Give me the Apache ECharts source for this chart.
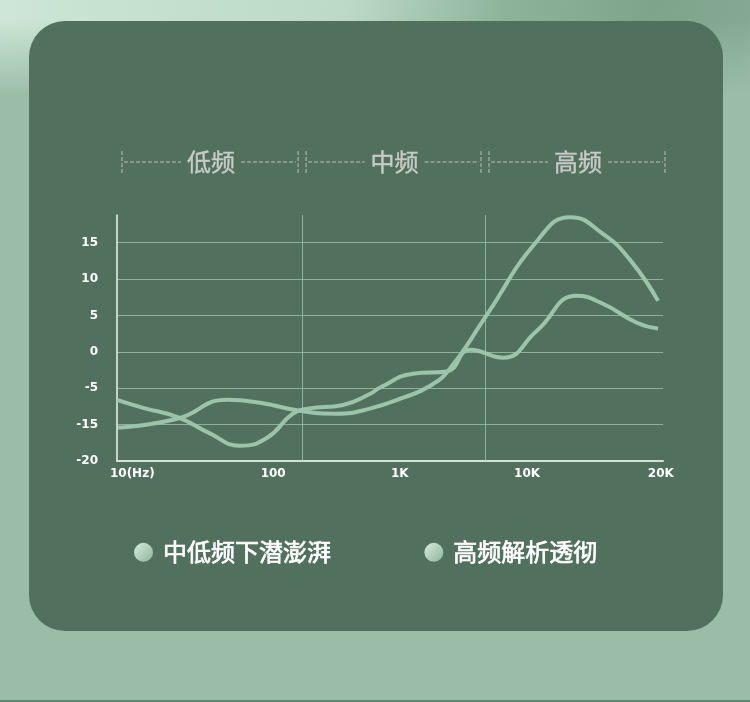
<!DOCTYPE html>
<html>
<head>
<meta charset="utf-8">
<script src="https://cdn.jsdelivr.net/npm/echarts@6/dist/echarts.min.js"></script>
<style>
	html, body { margin: 0; padding: 0; }
	body {
		width: 750px; height: 702px; overflow: hidden; position: relative;
		background:
			linear-gradient(180deg, rgba(155,189,168,0) 0, rgba(155,189,168,0) 20px, #9bbda8 95px),
			linear-gradient(100deg, #cde6d7 0%, #bcd9c7 40%, #8db39b 58%, #7fa48c 75%, #84a891 86%, #b4d1bf 93%, #86a993 100%);
		background-color: #9bbda8;
	}
	.card {
		position: absolute; left: 29px; top: 21px; width: 694px; height: 610px;
		border-radius: 36px; background: #52705e;
	}
	.bottom-line { position: absolute; left: 0; bottom: 0; width: 750px; height: 2px; background: #5e8470; }
	#chart { position: absolute; left: 0; top: 0; width: 750px; height: 702px; }
</style>
</head>
<body>
<div class="card"></div>
<div class="bottom-line"></div>
<div id="chart"></div>
<script>
	// 频段划分(横轴位置 0-100)
	var bandNames = ['低频', '中频', '高频'];
	var bandEdges = [0, 33.9, 67.4, 100];

	// 横轴刻度
	var xTickPos = [2.8, 28.6, 51.8, 75.1, 99.6];
	var xTickLabels = ['10(Hz)', '100', '1K', '10K', '20K'];

	// 纵轴刻度
	var yTickValues = [-15, -10, -5, 0, 5, 10, 15];
	var yTickLabels = ['-20', '-15', '-5', '0', '5', '10', '15'];

	var seriesNames = ['中低频下潜澎湃', '高频解析透彻'];

	// 中低频曲线
	var lowX = [0, 4.8, 11.2, 17.0, 22.5, 27.5, 32.2, 35.0, 41.4, 46.3, 48.2, 54.2, 60.4, 64.7, 70.7, 76.9, 84.2, 89.0, 95.2, 99.1];
	var lowY = [-6.6, -7.7, -9.0, -11.2, -12.9, -11.8, -8.5, -7.8, -7.3, -5.8, -4.9, -3.0, -2.7, 0.3, -0.8, 2.9, 7.7, 6.6, 4.0, 3.2];

	// 高频曲线
	var highX = [0.2, 11.0, 20.1, 26.2, 33.5, 40.3, 46.3, 52.4, 57.3, 61.0, 67.4, 76.9, 83.0, 89.0, 94.0, 99.1];
	var highY = [-10.4, -9.2, -6.6, -7.0, -8.1, -8.5, -7.8, -6.3, -4.7, -2.3, 4.7, 15.2, 18.5, 16.2, 12.6, 7.0];

	var lineColor = '#9cc4ab';
	var gridColor = 'rgba(160,200,176,0.75)';
	var numFont = '"DejaVu Sans", sans-serif';
	var cjkFont = '"Noto Sans CJK SC", sans-serif';

	function pairs(xs, ys) {
		var arr = [];
		for (var i = 0; i < xs.length; i++) {
			arr.push([xs[i], ys[i]]);
		}
		return arr;
	}

	var legendIcon = new echarts.graphic.LinearGradient(0, 0, 1, 1, [
		{ offset: 0, color: '#d6eadd' },
		{ offset: 1, color: '#8db59c' }
	]);

	var chart = echarts.init(document.getElementById('chart'));
	var option = {
		animation: false,
		grid: { left: 117, right: 87, top: 215, bottom: 241 },
		legend: {
			left: 134,
			top: 540,
			padding: 0,
			itemWidth: 19,
			itemHeight: 19,
			itemGap: 93,
			icon: 'circle',
			data: [
				{ name: seriesNames[0], itemStyle: { color: legendIcon } },
				{ name: seriesNames[1], itemStyle: { color: legendIcon } }
			],
			textStyle: {
				color: '#ffffff',
				fontSize: 24,
				fontFamily: cjkFont,
				textBorderColor: '#ffffff',
				textBorderWidth: 0.7,
				padding: [0, 0, 0, 5]
			}
		},
		xAxis: {
			type: 'value',
			min: 0,
			max: 100,
			axisLine: { onZero: false, lineStyle: { color: '#d3e3d8', width: 2 } },
			axisTick: { show: false },
			splitLine: { show: false },
			axisLabel: {
				customValues: xTickPos,
				color: '#ffffff',
				fontSize: 12,
				fontWeight: 'bold',
				fontFamily: numFont,
				margin: 7,
				formatter: function (v) {
					var i = xTickPos.indexOf(v);
					return i < 0 ? '' : xTickLabels[i];
				}
			}
		},
		yAxis: {
			type: 'value',
			min: -15,
			max: 18.8,
			interval: 5,
			axisLine: { show: true, lineStyle: { color: '#eef4ef', width: 1.5 } },
			axisTick: { show: false },
			splitLine: {
				show: true,
				showMinLine: false,
				showMaxLine: false,
				lineStyle: { color: gridColor, width: 1 }
			},
			axisLabel: {
				color: '#ffffff',
				fontSize: 12,
				fontWeight: 'bold',
				fontFamily: numFont,
				margin: 19,
				showMaxLabel: false,
				formatter: function (v) {
					var i = yTickValues.indexOf(v);
					return i < 0 ? '' : yTickLabels[i];
				}
			}
		},
		series: [
			{
				name: seriesNames[0],
				type: 'line',
				smooth: 0.5,
				symbol: 'none',
				lineStyle: { color: lineColor, width: 4 },
				itemStyle: { color: lineColor },
				data: pairs(lowX, lowY),
				markLine: {
					silent: true,
					symbol: 'none',
					label: { show: false },
					lineStyle: { color: gridColor, type: 'solid', width: 1 },
					data: [{ xAxis: bandEdges[1] }, { xAxis: bandEdges[2] }]
				}
			},
			{
				name: seriesNames[1],
				type: 'line',
				smooth: 0.5,
				symbol: 'none',
				lineStyle: { color: lineColor, width: 4 },
				itemStyle: { color: lineColor },
				data: pairs(highX, highY)
			}
		]
	};
	chart.setOption(option);

	// 顶部频段标注
	function drawBands() {
		var els = [];
		var headY = 162;
		var dashColor = '#b9c2ba';
		var last = bandNames.length - 1;
		for (var i = 0; i < bandNames.length; i++) {
			var x0 = chart.convertToPixel({ xAxisIndex: 0 }, bandEdges[i]);
			var x1 = chart.convertToPixel({ xAxisIndex: 0 }, bandEdges[i + 1]);
			var l = x0 + (i === 0 ? 5 : 4);
			var r = x1 + (i === last ? 2 : -4);
			var mid = (l + r) / 2 + 1;
			var half = 30;
			var dash = { stroke: dashColor, lineWidth: 1, lineDash: [4, 2] };
			els.push({ type: 'line', shape: { x1: l, y1: headY - 11, x2: l, y2: headY + 11 }, style: dash });
			els.push({ type: 'line', shape: { x1: r, y1: headY - 11, x2: r, y2: headY + 11 }, style: dash });
			els.push({ type: 'line', shape: { x1: l + 2, y1: headY, x2: mid - half, y2: headY }, style: dash });
			els.push({ type: 'line', shape: { x1: mid + half, y1: headY, x2: r - 2, y2: headY }, style: dash });
			els.push({
				type: 'text',
				x: mid,
				y: headY,
				style: {
					text: bandNames[i],
					fill: '#c7cbc6',
					font: '24px "Noto Sans CJK SC", sans-serif',
					stroke: '#c7cbc6',
					lineWidth: 0.4,
					align: 'center',
					verticalAlign: 'middle'
				}
			});
		}
		chart.setOption({ graphic: els });
	}
	drawBands();
</script>
</body>
</html>
